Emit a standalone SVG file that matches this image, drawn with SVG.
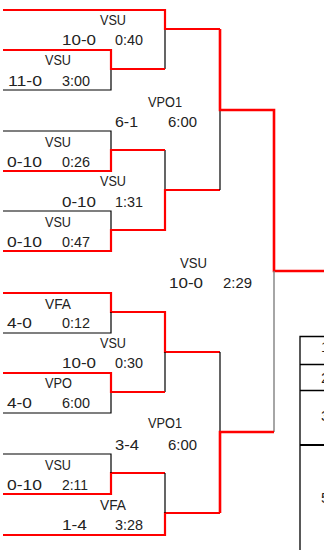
<svg xmlns="http://www.w3.org/2000/svg" width="324" height="550" viewBox="0 0 324 550">
<style>
.r{stroke:#ff0000;stroke-width:2.2;fill:none}
.rt{stroke:#ff0000;stroke-width:2.6;fill:none}
.k{stroke:#000;stroke-width:1.2;fill:none}
.g{stroke:#808080;stroke-width:1.4;fill:none}
.t{stroke:#000;stroke-width:1.3;fill:none}
text{font-family:"Liberation Sans",Arial,sans-serif;font-size:15px;fill:#222}
</style>
<rect width="324" height="550" fill="#fff"/>
<g id="connectors">
<path class="k" d="M165 29V69M111 69V90H3"/>
<path class="r" d="M3 50H111V69H165"/>
<path class="k" d="M3 131H111V150M165 150V190M3 211H111V230"/>
<path class="r" d="M3 171H111V150H165"/>
<path class="r" d="M3 251H111V230H165V190H220"/>
<path class="k" d="M220 110V190"/>
<path class="r" d="M3 10H165V29H220"/>
<path class="rt" d="M220 29V110H274V271H324"/>
<path class="g" d="M274 271V432"/>
<path class="r" d="M3 293H111V312H165V352H220"/>
<path class="k" d="M111 312V333H3M111 392V413H3M165 352V392M220 352V432"/>
<path class="r" d="M3 373H111V392H165"/>
<path class="rt" d="M274 432H220V513"/>
<path class="r" d="M220 513H165V535H3"/>
<path class="r" d="M3 494H111V473H165"/>
<path class="k" d="M3 454H111V473M165 473V513"/>
</g>
<g id="m-top-bye">
<text x="100" y="25" textLength="26" lengthAdjust="spacingAndGlyphs">VSU</text>
<text x="62" y="45" textLength="34" lengthAdjust="spacingAndGlyphs">10-0</text>
<text x="115" y="45" textLength="28" lengthAdjust="spacingAndGlyphs">0:40</text>
</g>
<g id="m1">
<text x="45" y="65" textLength="26" lengthAdjust="spacingAndGlyphs">VSU</text>
<text x="8" y="86" textLength="34" lengthAdjust="spacingAndGlyphs">11-0</text>
<text x="62" y="86" textLength="28" lengthAdjust="spacingAndGlyphs">3:00</text>
</g>
<g id="sf1">
<text x="148" y="107" textLength="34" lengthAdjust="spacingAndGlyphs">VPO1</text>
<text x="115" y="127" textLength="23" lengthAdjust="spacingAndGlyphs">6-1</text>
<text x="168" y="127" textLength="29" lengthAdjust="spacingAndGlyphs">6:00</text>
</g>
<g id="m2">
<text x="45" y="147" textLength="26" lengthAdjust="spacingAndGlyphs">VSU</text>
<text x="7" y="167" textLength="35" lengthAdjust="spacingAndGlyphs">0-10</text>
<text x="62" y="167" textLength="28" lengthAdjust="spacingAndGlyphs">0:26</text>
</g>
<g id="qf2">
<text x="100" y="186" textLength="26" lengthAdjust="spacingAndGlyphs">VSU</text>
<text x="62" y="207" textLength="34" lengthAdjust="spacingAndGlyphs">0-10</text>
<text x="115" y="207" textLength="28" lengthAdjust="spacingAndGlyphs">1:31</text>
</g>
<g id="m3">
<text x="45" y="227" textLength="26" lengthAdjust="spacingAndGlyphs">VSU</text>
<text x="7" y="247" textLength="35" lengthAdjust="spacingAndGlyphs">0-10</text>
<text x="62" y="247" textLength="28" lengthAdjust="spacingAndGlyphs">0:47</text>
</g>
<g id="final">
<text x="180" y="268" textLength="27" lengthAdjust="spacingAndGlyphs">VSU</text>
<text x="169" y="288" textLength="34" lengthAdjust="spacingAndGlyphs">10-0</text>
<text x="223" y="288" textLength="29" lengthAdjust="spacingAndGlyphs">2:29</text>
</g>
<g id="m4">
<text x="45" y="309" textLength="26" lengthAdjust="spacingAndGlyphs">VFA</text>
<text x="7" y="328" textLength="25" lengthAdjust="spacingAndGlyphs">4-0</text>
<text x="62" y="328" textLength="28" lengthAdjust="spacingAndGlyphs">0:12</text>
</g>
<g id="qf3">
<text x="100" y="348" textLength="26" lengthAdjust="spacingAndGlyphs">VSU</text>
<text x="62" y="368" textLength="34" lengthAdjust="spacingAndGlyphs">10-0</text>
<text x="115" y="368" textLength="28" lengthAdjust="spacingAndGlyphs">0:30</text>
</g>
<g id="m5">
<text x="45" y="388" textLength="27" lengthAdjust="spacingAndGlyphs">VPO</text>
<text x="7" y="408" textLength="25" lengthAdjust="spacingAndGlyphs">4-0</text>
<text x="62" y="408" textLength="28" lengthAdjust="spacingAndGlyphs">6:00</text>
</g>
<g id="sf2">
<text x="148" y="428" textLength="34" lengthAdjust="spacingAndGlyphs">VPO1</text>
<text x="115" y="450" textLength="24" lengthAdjust="spacingAndGlyphs">3-4</text>
<text x="168" y="450" textLength="29" lengthAdjust="spacingAndGlyphs">6:00</text>
</g>
<g id="m6">
<text x="45" y="470" textLength="26" lengthAdjust="spacingAndGlyphs">VSU</text>
<text x="7" y="490" textLength="35" lengthAdjust="spacingAndGlyphs">0-10</text>
<text x="62" y="490" textLength="26" lengthAdjust="spacingAndGlyphs">2:11</text>
</g>
<g id="qf4">
<text x="100" y="510" textLength="26" lengthAdjust="spacingAndGlyphs">VFA</text>
<text x="62" y="530" textLength="25" lengthAdjust="spacingAndGlyphs">1-4</text>
<text x="115" y="530" textLength="28" lengthAdjust="spacingAndGlyphs">3:28</text>
</g>
<g id="table">
<path class="t" d="M300 550V336.5H324M300 364.5H324M300 390.5H324"/>
<path class="t" style="stroke-width:2" d="M300 445H324"/>
<text x="321" y="352">1</text>
<text x="321" y="383">2</text>
<text x="321" y="421">3</text>
<text x="321" y="503">5</text>
</g>
</svg>
